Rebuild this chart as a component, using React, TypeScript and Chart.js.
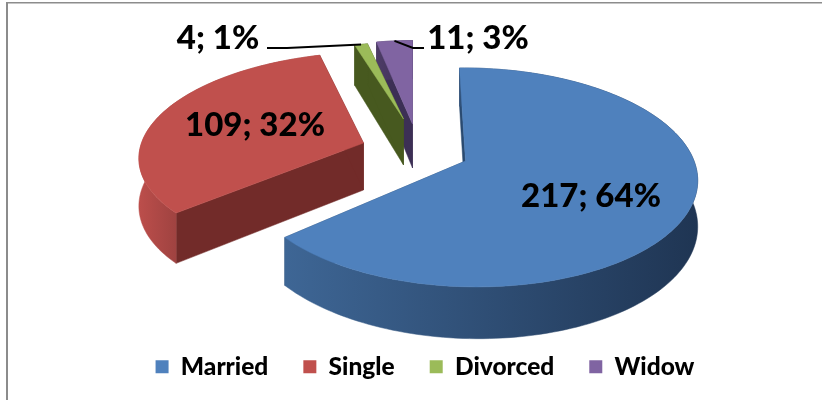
import React, { useEffect, useRef } from "react";
import { Chart, registerables } from "chart.js";

Chart.register(...registerables);

const categories = ["Married", "Single", "Divorced", "Widow"];
const values = [217, 109, 4, 11];
const percents = [64, 32, 1, 3];
const topColors = ["#4F81BD", "#C0504D", "#9BBB59", "#8064A2"];
const faceColors = ["#2A4A70", "#722B29", "#47591F", "#3C2F55"];
const wallLight = ["#3E6695", "#BC4E4B", "#47591F", "#4D3C66"];
const wallDark = ["#1F3553", "#A04341", "#47591F", "#3C2F55"];
const FONT = "Lato, 'Noto Sans', sans-serif";

// per-slice 3D look: apex offset from the pie centre, half-axes, depth, perspective, shear
const slice3d = [
  { dx: 40.5, dy: 1.25, a: 224, b: 107, d: 44, k: 0.15, m: 0.02, sh: 6 },
  { dx: -61.5, dy: -16.75, a: 222, b: 100, d: 47, k: 0.1, m: 0, sh: -12 },
  { dx: -21.5, dy: -40.75, a: 205, b: 88, d: 46, k: 0.15, m: 0, sh: 0 },
  { dx: -12.5, dy: -35.75, a: 205, b: 96, d: 44, k: 0.15, m: 0, sh: 0 },
];
const drawOrder = [3, 2, 1, 0];
const labelSpots = [
  { x: 591, y: 196 },
  { x: 255, y: 125 },
  { x: 218, y: 38 },
  { x: 478, y: 38 },
];
const leaders = [null, null, { x: 267, y: 48, kx: 287 }, { x: 424, y: 48, kx: 413 }];

const pie3d = {
  id: "pie3d",
  beforeDatasetDraw(chart: any) {
    const ctx = chart.ctx as CanvasRenderingContext2D;
    const meta = chart.getDatasetMeta(0);
    const centerX = meta.data[0].x;
    const centerY = meta.data[0].y;
    const project = (i: number, angle: number, r: number, z: number) => {
      const c = slice3d[i];
      const u = Math.cos(angle) * r;
      const v = Math.sin(angle) * r;
      const s = 1 / (1 - c.k * v - c.m * u);
      return {
        x: centerX + c.dx + c.a * u * s + c.sh * v,
        y: centerY + c.dy + c.b * v * s + z * c.d * s,
      };
    };
    const poly = (pts: { x: number; y: number }[], fill: any) => {
      ctx.beginPath();
      pts.forEach((p, n) => (n ? ctx.lineTo(p.x, p.y) : ctx.moveTo(p.x, p.y)));
      ctx.closePath();
      ctx.fillStyle = fill;
      ctx.fill();
      ctx.strokeStyle = fill;
      ctx.lineWidth = 0.5;
      ctx.stroke();
    };
    drawOrder.forEach((i) => {
      const el = meta.data[i];
      const { startAngle, endAngle } = el;
      const steps = Math.max(4, Math.ceil((endAngle - startAngle) * 40));
      const top: { x: number; y: number }[] = [];
      const bottom: { x: number; y: number }[] = [];
      for (let n = 0; n <= steps; n++) {
        const t = startAngle + ((endAngle - startAngle) * n) / steps;
        top.push(project(i, t, 1, 0));
        bottom.push(project(i, t, 1, 1));
      }
      const apex = project(i, 0, 0, 0);
      const apexLow = project(i, 0, 0, 1);
      poly([apex, top[0], bottom[0], apexLow], faceColors[i]);
      poly([apex, top[steps], bottom[steps], apexLow], faceColors[i]);
      const xs = top.map((p) => p.x);
      const grad = ctx.createLinearGradient(Math.min(...xs), 0, Math.max(...xs), 0);
      if (i === 1) {
        grad.addColorStop(0, wallLight[i]);
        grad.addColorStop(0.2, wallDark[i]);
        grad.addColorStop(1, wallDark[i]);
      } else {
        grad.addColorStop(0, wallLight[i]);
        grad.addColorStop(1, wallDark[i]);
      }
      poly([...top, ...bottom.slice().reverse()], grad);
      poly([apex, ...top], topColors[i]);
    });
    ctx.strokeStyle = "#000";
    ctx.lineWidth = 2;
    drawOrder.forEach((i) => {
      const l = leaders[i];
      if (!l) return;
      const el = meta.data[i];
      const p = project(i, (el.startAngle + el.endAngle) / 2, 1, 0);
      ctx.beginPath();
      ctx.moveTo(l.x, l.y);
      ctx.lineTo(l.kx, l.y);
      ctx.lineTo(p.x, p.y);
      ctx.stroke();
    });
    ctx.fillStyle = "#000";
    ctx.font = `900 33px ${FONT}`;
    ctx.textAlign = "center";
    ctx.textBaseline = "middle";
    categories.forEach((_, i) => {
      ctx.fillText(`${values[i]}; ${percents[i]}%`, labelSpots[i].x, labelSpots[i].y);
    });
    return false;
  },
};

const frame = {
  id: "frame",
  beforeDraw(chart: any) {
    const ctx = chart.ctx as CanvasRenderingContext2D;
    ctx.save();
    ctx.fillStyle = "#fff";
    ctx.fillRect(0, 0, chart.width, chart.height);
    ctx.fillStyle = "#8C8C8C";
    ctx.fillRect(6, 2, 816, 1.5);
    ctx.fillRect(6, 2, 2, 398);
    ctx.restore();
  },
};

export default function App() {
  const ref = useRef<HTMLCanvasElement>(null);
  useEffect(() => {
    const chart = new Chart(ref.current!, {
      type: "pie",
      data: {
        labels: categories,
        datasets: [{ data: values, backgroundColor: topColors, borderWidth: 0 }],
      },
      options: {
        animation: false,
        responsive: false,
        layout: { padding: { left: 28, right: 0, top: 0, bottom: 11 } },
        plugins: {
          tooltip: { enabled: false },
          legend: {
            position: "bottom",
            labels: {
              boxWidth: 13,
              boxHeight: 13,
              padding: 35,
              color: "#000",
              font: { family: FONT, size: 24.5, weight: "900" },
            },
          },
        },
      },
      plugins: [frame, pie3d],
    });
    return () => chart.destroy();
  }, []);
  return (
    <div style={{ position: "absolute", left: 0, top: 0, width: 822, height: 400 }}>
      <canvas ref={ref} width={822} height={400} style={{ display: "block" }} />
    </div>
  );
}
